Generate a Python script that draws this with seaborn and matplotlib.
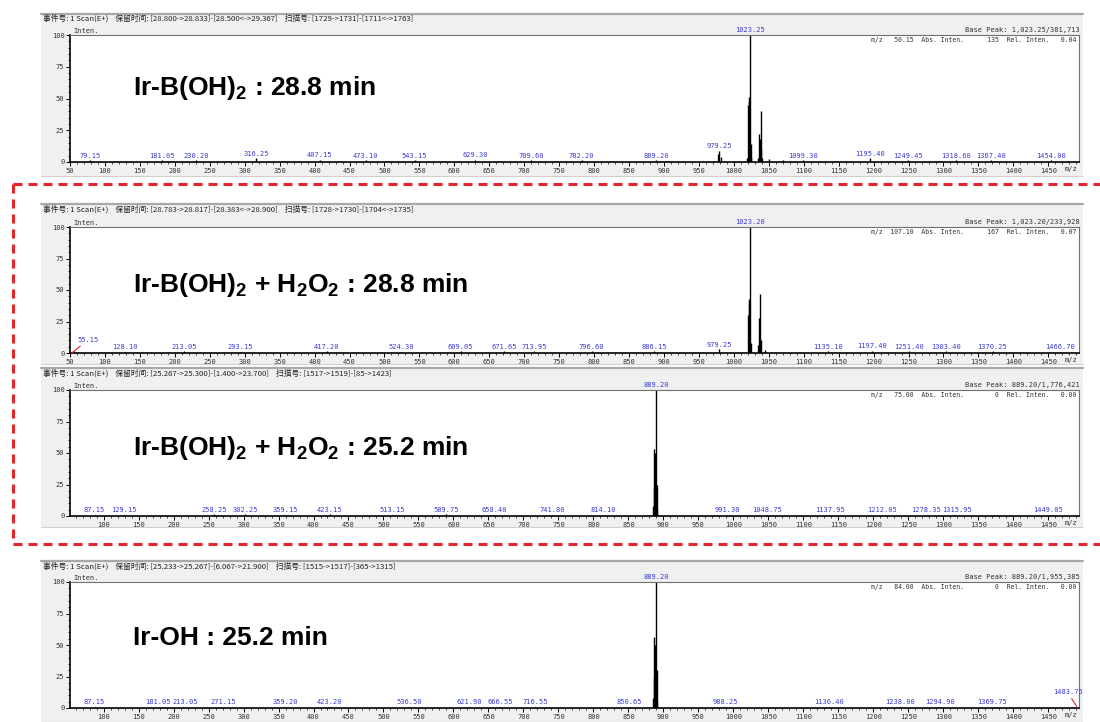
import matplotlib
matplotlib.use("Agg")
import matplotlib.pyplot as plt
import seaborn as sns
from matplotlib.ticker import MultipleLocator, FixedLocator
from matplotlib.patches import Rectangle

# ---------------- data ----------------
titles = [
    r"Ir-B(OH)$_\mathbf{2}$ : 28.8 min",
    r"Ir-B(OH)$_\mathbf{2}$ + H$_\mathbf{2}$O$_\mathbf{2}$ : 28.8 min",
    r"Ir-B(OH)$_\mathbf{2}$ + H$_\mathbf{2}$O$_\mathbf{2}$ : 25.2 min",
    "Ir-OH : 25.2 min",
]
headers = [
    "事件号: 1 Scan(E+)    保留时间: [28.800->28.833]-[28.500<->29.367]    扫描号: [1729->1731]-[1711<->1763]",
    "事件号: 1 Scan(E+)    保留时间: [28.783->28.817]-[28.383<->28.900]    扫描号: [1728->1730]-[1704<->1735]",
    "事件号: 1 Scan(E+)    保留时间: [25.267->25.300]-[1.400->23.700]    扫描号: [1517->1519]-[85->1423]",
    "事件号: 1 Scan(E+)    保留时间: [25.233->25.267]-[6.067->21.900]    扫描号: [1515->1517]-[365->1315]",
]
base_peaks = [
    "Base Peak: 1,023.25/381,713",
    "Base Peak: 1,023.20/233,928",
    "Base Peak: 889.20/1,776,421",
    "Base Peak: 889.20/1,955,385",
]
cursor_info = [
    "m/z   50.15  Abs. Inten.      135  Rel. Inten.   0.04",
    "m/z  107.10  Abs. Inten.      167  Rel. Inten.   0.07",
    "m/z   75.00  Abs. Inten.        0  Rel. Inten.   0.00",
    "m/z   84.00  Abs. Inten.        0  Rel. Inten.   0.00",
]

p1_mz = [79.15, 181.05, 230.20, 316.25, 407.15, 473.10, 543.15, 629.30, 709.60, 782.20,
         889.20, 977.25, 979.25, 981.20, 1000.3, 1019.2, 1020.2, 1021.2, 1022.2, 1023.25,
         1024.25, 1025.2, 1035.2, 1036.2, 1037.2, 1038.2, 1039.2, 1040.2, 1051.0, 1070.0,
         1099.30, 1195.40, 1249.45, 1318.60, 1367.40, 1454.00]
p1_int = [1.2, 1.5, 1.3, 3.0, 1.8, 1.5, 1.5, 1.6, 1.5, 1.2,
          1.5, 6.0, 9.0, 4.0, 1.0, 3.0, 45.0, 51.0, 49.0, 100.0,
          14.0, 4.0, 3.0, 22.0, 18.0, 40.0, 10.0, 3.0, 2.0, 1.5,
          1.5, 3.0, 1.2, 1.5, 1.5, 1.3]
p1_labeled = [79.15, 181.05, 230.20, 316.25, 407.15, 473.10, 543.15, 629.30, 709.60, 782.20,
              889.20, 979.25, 1023.25, 1099.30, 1195.40, 1249.45, 1318.60, 1367.40, 1454.00]

p2_mz = [55.15, 128.10, 213.05, 293.15, 417.20, 524.30, 609.05, 671.65, 713.95, 796.60,
         886.15, 979.25, 1020.2, 1021.2, 1022.2, 1023.20, 1024.2, 1035.2, 1036.2, 1037.2,
         1038.2, 1045.0, 1135.10, 1197.40, 1251.40, 1303.40, 1370.25, 1466.70]
p2_int = [1.5, 1.0, 1.2, 1.0, 1.5, 1.0, 1.5, 1.2, 1.3, 1.5,
          1.5, 3.0, 30.0, 43.0, 40.0, 100.0, 8.0, 6.0, 28.0, 47.0,
          10.0, 2.0, 1.3, 1.6, 1.3, 1.3, 1.5, 1.0]
p2_labeled = [128.10, 213.05, 293.15, 417.20, 524.30, 609.05, 671.65, 713.95, 796.60,
              886.15, 979.25, 1023.20, 1135.10, 1197.40, 1251.40, 1303.40, 1370.25, 1466.70]
p2_leader = [55.15]

p3_mz = [87.15, 129.15, 258.25, 302.25, 359.15, 423.15, 513.15, 589.75, 658.40, 741.80,
         814.10, 885.2, 886.2, 887.2, 888.2, 889.20, 890.2, 891.2, 991.30, 1048.75,
         1137.95, 1212.05, 1278.35, 1315.95, 1449.05]
p3_int = [1.0, 1.0, 1.2, 1.2, 1.0, 1.2, 1.0, 1.2, 1.0, 1.0,
          1.0, 8.0, 22.0, 53.0, 50.0, 100.0, 25.0, 5.0, 1.0, 1.0,
          1.0, 1.0, 1.0, 1.0, 1.0]
p3_labeled = [87.15, 129.15, 258.25, 302.25, 359.15, 423.15, 513.15, 589.75, 658.40, 741.80,
              814.10, 889.20, 991.30, 1048.75, 1137.95, 1212.05, 1278.35, 1315.95, 1449.05]

p4_mz = [87.15, 181.05, 213.05, 271.15, 359.20, 423.20, 536.50, 621.90, 666.55, 716.55,
         850.65, 885.2, 886.2, 887.2, 888.2, 889.20, 890.2, 891.2, 988.25, 1136.40,
         1238.00, 1294.90, 1369.75, 1483.75]
p4_int = [1.0, 1.0, 1.0, 1.0, 1.0, 1.0, 1.0, 1.0, 1.0, 1.0,
          1.0, 8.0, 24.0, 56.0, 50.0, 100.0, 30.0, 5.0, 1.0, 1.0,
          1.0, 1.0, 1.0, 0.5]
p4_labeled = [87.15, 181.05, 213.05, 271.15, 359.20, 423.20, 536.50, 621.90, 666.55, 716.55,
              850.65, 889.20, 988.25, 1136.40, 1238.00, 1294.90, 1369.75]
p4_leader = [1483.75]

spectra = [
    (p1_mz, p1_int, p1_labeled, []),
    (p2_mz, p2_int, p2_labeled, p2_leader),
    (p3_mz, p3_int, p3_labeled, []),
    (p4_mz, p4_int, p4_labeled, p4_leader),
]
x_ticks = list(range(50, 1451, 50))
y_ticks = [0, 25, 50, 75, 100]

# ---------------- style ----------------
sns.set_theme(style="ticks")
plt.rcParams["font.family"] = ["Liberation Sans", "Noto Sans CJK SC", "DejaVu Sans"]
plt.rcParams["mathtext.fontset"] = "custom"
plt.rcParams["mathtext.rm"] = "Liberation Sans"
plt.rcParams["mathtext.bf"] = "Liberation Sans:bold"
plt.rcParams["lines.scale_dashes"] = False

W, H = 1100, 722
fig = plt.figure(figsize=(W / 100, H / 100), dpi=100)
fig.patch.set_facecolor("white")

# layout in pixels: header line, header text, axes top, axes bottom, grey bottom, title y
layout = [
    (14, 18, 35, 162, 176, 88),
    (204, 209, 227, 353, 364, 285),
    (368, 373, 390, 516, 527, 448),
    (561, 566, 582, 708, 722, 638),
]
xlims = [(50, 1494), (50, 1494), (52, 1494), (52, 1494)]
AX_L, AX_R = 70, 1079
GR_L, GR_R = 41, 1083
MONO = "DejaVu Sans Mono"
BLUE = "#3a3ad6"
LABEL_FS = 5.0
px_per_mz = (AX_R - AX_L) / (1494 - 50)

bg = fig.add_axes([0, 0, 1, 1], zorder=0)
bg.set_xlim(0, W)
bg.set_ylim(H, 0)
bg.axis("off")

for (hl, ht, top, bot, gb, ty) in layout:
    bg.add_patch(Rectangle((GR_L, hl), GR_R - GR_L, gb - hl, facecolor="#f0f0f0",
                           edgecolor="none"))
    bg.plot([GR_L, GR_R], [hl, hl], color="#a8a8a8", lw=1.6)
    bg.plot([GR_L, GR_R], [gb, gb], color="#d0d0d0", lw=0.8)

# red dashed frame
red_kw = dict(color="#e3262a", lw=2.2, ls=(0, (6.5, 4.3)))
bg.plot([13, W], [184, 184], **red_kw)
bg.plot([13, W], [544, 544], **red_kw)
bg.plot([13, 13], [184, 544], **red_kw)

overlay = fig.add_axes([0, 0, 1, 1], zorder=20)
overlay.set_xlim(0, W)
overlay.set_ylim(H, 0)
overlay.axis("off")
overlay.patch.set_alpha(0)


def label_shifts(labeled):
    """Horizontal nudges (px) that push apart labels which would collide."""
    width = lambda m: len(f"{m:.2f}") * 0.602 * LABEL_FS * 100 / 72
    shifts = {m: 0.0 for m in labeled}
    srt = sorted(labeled)
    for a, b in zip(srt[:-1], srt[1:]):
        gap = (b - a) * px_per_mz
        need = (width(a) + width(b)) / 2 + 1.5
        if gap < need:
            d = (need - gap) / 2
            shifts[a] -= d
            shifts[b] += d
    return shifts


for i, ((hl, ht, top, bot, gb, ty), (mz, inten, labeled, leader)) in enumerate(zip(layout, spectra)):
    ax = fig.add_axes([AX_L / W, 1 - bot / H, (AX_R - AX_L) / W, (bot - top) / H], zorder=5)
    ax.set_facecolor("white")
    ax.vlines(mz, 0, inten, color="black", lw=1.0)
    ax.set_xlim(*xlims[i])
    ax.set_ylim(0, 100)
    ax.xaxis.set_major_locator(FixedLocator(x_ticks))
    ax.xaxis.set_minor_locator(MultipleLocator(10))
    ax.yaxis.set_major_locator(FixedLocator(y_ticks))
    ax.yaxis.set_minor_locator(MultipleLocator(5))
    ax.tick_params(which="major", length=3, width=0.7, direction="out", labelsize=5, pad=1,
                   colors="black")
    ax.tick_params(which="minor", length=1.5, width=0.6, direction="out")
    for lbl in ax.get_xticklabels() + ax.get_yticklabels():
        lbl.set_family(MONO)
        lbl.set_color("#333333")
    for s in ["left", "bottom"]:
        ax.spines[s].set_color("black")
        ax.spines[s].set_linewidth(1.2)
    for s in ["top", "right"]:
        ax.spines[s].set_color("#707070")
        ax.spines[s].set_linewidth(0.8)
        ax.spines[s].set_visible(True)
    ax.grid(False)

    # peak labels
    lookup = dict(zip(mz, inten))
    shifts = label_shifts(labeled)
    for m in labeled:
        ax.annotate(f"{m:.2f}", xy=(m, lookup[m] + 1.2), xytext=(shifts[m] * 0.72, 0),
                    textcoords="offset points", ha="center", va="bottom",
                    fontsize=LABEL_FS, family=MONO, color=BLUE, annotation_clip=False)
    for m in leader:
        if m < 500:
            xt, yt, xp = m + 21, 8, m - 2
        else:
            xt, yt, xp = m - 6, 10, m + 8
        ax.annotate(f"{m:.2f}", xy=(xp, 0.3), xytext=(xt, yt), ha="center", va="bottom",
                    fontsize=LABEL_FS, family=MONO, color=BLUE, annotation_clip=False,
                    arrowprops=dict(arrowstyle="-", color="#e3262a", lw=0.8,
                                    shrinkA=0, shrinkB=0))

    ax.text(0.003, 1.01, "Inten.", transform=ax.transAxes, ha="left", va="bottom",
            fontsize=5, family=MONO, color="#333333")
    ax.text(0.998, -0.035, "m/z", transform=ax.transAxes, ha="right", va="top",
            fontsize=5, family=MONO, color="#333333")
    ax.text(0.997, 0.985, cursor_info[i], transform=ax.transAxes, ha="right", va="top",
            fontsize=4.7, family=MONO, color="#333333")

    # header texts (pixel coords)
    overlay.text(43, ht, headers[i], ha="left", va="center", fontsize=5.6,
                 family=["Noto Sans CJK SC", "DejaVu Sans"], color="#222222")
    overlay.text(AX_R + 1, top - 2, base_peaks[i], ha="right", va="bottom", fontsize=5,
                 family=MONO, color="#333333")
    overlay.text(133, ty, titles[i], ha="left", va="center", fontsize=19,
                 fontweight="bold", color="black")

fig.savefig("out.png", dpi=100, facecolor="white")
